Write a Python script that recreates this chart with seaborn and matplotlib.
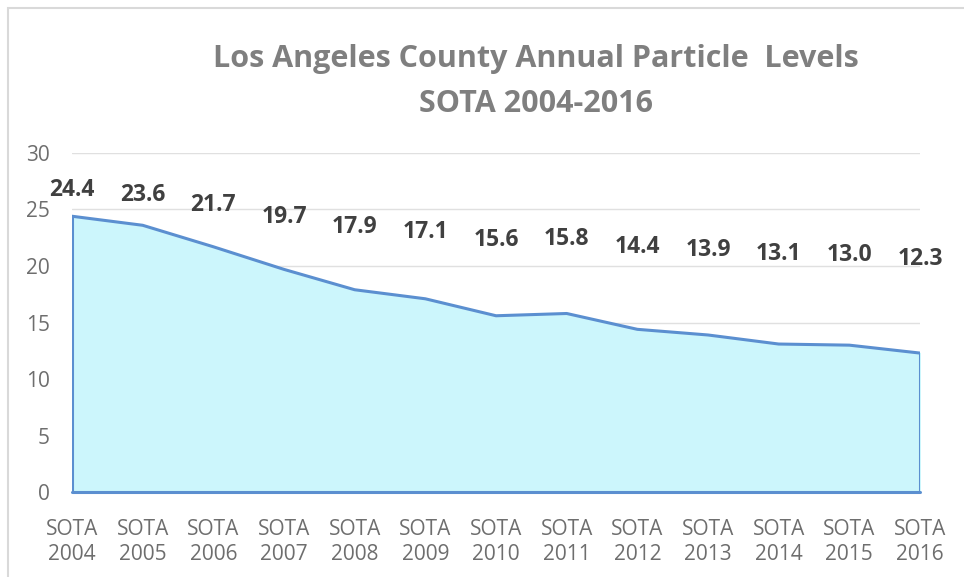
import numpy as np
import pandas as pd
import matplotlib
matplotlib.use('Agg')
import matplotlib.pyplot as plt
import seaborn as sns

# Data
years = [2004, 2005, 2006, 2007, 2008, 2009, 2010, 2011, 2012, 2013, 2014, 2015, 2016]
levels = [24.4, 23.6, 21.7, 19.7, 17.9, 17.1, 15.6, 15.8, 14.4, 13.9, 13.1, 13.0, 12.3]
tick_labels = ['SOTA\n{}'.format(y) for y in years]
y_ticks = [0, 5, 10, 15, 20, 25, 30]

sns.set_style('white')
plt.rcParams['font.family'] = ['Open Sans', 'DejaVu Sans']

df = pd.DataFrame({'pos': np.arange(len(years)), 'level': levels})

fig = plt.figure(figsize=(9.64, 5.77), dpi=100)
ax = fig.add_axes([0.0747, 0.147, 0.8797, 0.588])

# figure border like the source frame
fig.patches.append(matplotlib.patches.Rectangle((8 / 964, -0.01), 1.2, 1 - 8 / 577 + 0.01,
                                                transform=fig.transFigure, fill=False,
                                                edgecolor='#d9d9d9', linewidth=1.5))

line_c = '#5b8fd0'
ax.fill_between(df['pos'], 0, df['level'], color='#ccf6fc', zorder=2)
sns.lineplot(data=df, x='pos', y='level', ax=ax, color=line_c, linewidth=2.2, zorder=3)
ax.plot([0, 0], [0, levels[0]], color=line_c, linewidth=2.2, zorder=3)
ax.plot([len(years) - 1] * 2, [0, levels[-1]], color=line_c, linewidth=2.2, zorder=3)
ax.plot([0, len(years) - 1], [0, 0], color=line_c, linewidth=2.2, zorder=3, clip_on=False)

# data labels (placed in a band above the line, as in the source)
for i, v in enumerate(levels):
    ax.text(i, 0.5 * v + 14.5, '{:.1f}'.format(v), ha='center', va='center',
            fontsize=16.5, fontweight='bold', color='#404040', zorder=4)

ax.set_xlim(0, len(years) - 1)
ax.set_ylim(0, 30)
ax.set_yticks(y_ticks)
ax.set_xticks(df['pos'])
ax.set_xticklabels(tick_labels, linespacing=1.3)
ax.set_xlabel('')
ax.set_ylabel('')
ax.yaxis.grid(True, color='#e0e0e0', linewidth=1)
ax.set_axisbelow(True)
for s in ax.spines.values():
    s.set_visible(False)
ax.tick_params(axis='x', length=5, color='#d9d9d9', labelcolor='#6e6e6e', labelsize=15, pad=14)
ax.tick_params(axis='y', length=0, labelcolor='#6e6e6e', labelsize=15, pad=16)

fig.text(0.556, 0.897, 'Los Angeles County Annual Particle  Levels', ha='center', va='center',
         fontsize=22, fontweight='bold', color='#7f7f7f')
fig.text(0.556, 0.82, 'SOTA 2004-2016', ha='center', va='center',
         fontsize=22, fontweight='bold', color='#7f7f7f')

fig.savefig('out.png', dpi=100)
